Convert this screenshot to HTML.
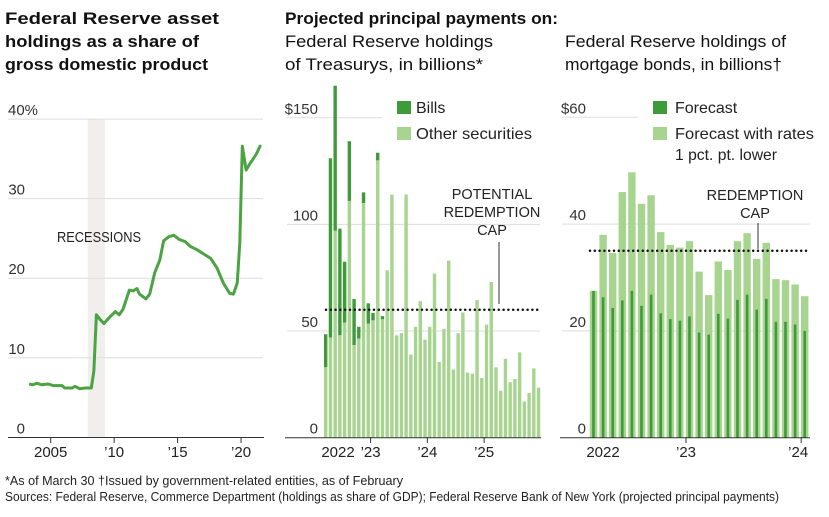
<!DOCTYPE html>
<html><head><meta charset="utf-8"><style>
html,body{margin:0;padding:0;background:#fff}
svg{display:block;font-family:"Liberation Sans",sans-serif}
</style></head><body>
<svg id="c" width="829" height="517" viewBox="0 0 829 517" xmlns="http://www.w3.org/2000/svg">
<g fill="#111">
<text x="5" y="24" font-size="17" font-weight="bold" textLength="214" lengthAdjust="spacingAndGlyphs">Federal Reserve asset</text>
<text x="5" y="47" font-size="17" font-weight="bold" textLength="194" lengthAdjust="spacingAndGlyphs">holdings as a share of</text>
<text x="5" y="70" font-size="17" font-weight="bold" textLength="203" lengthAdjust="spacingAndGlyphs">gross domestic product</text>
<text x="285" y="24" font-size="17" font-weight="bold" textLength="273" lengthAdjust="spacingAndGlyphs">Projected principal payments on:</text>
<text x="285" y="47" font-size="17" textLength="208" lengthAdjust="spacingAndGlyphs">Federal Reserve holdings</text>
<text x="285" y="70" font-size="17" textLength="198" lengthAdjust="spacingAndGlyphs">of Treasurys, in billions*</text>
<text x="565" y="47" font-size="17" textLength="221" lengthAdjust="spacingAndGlyphs">Federal Reserve holdings of</text>
<text x="565" y="70" font-size="17" textLength="217" lengthAdjust="spacingAndGlyphs">mortgage bonds, in billions†</text>
</g>
<g id="left"></g>
<g id="mid"></g>
<g id="right"></g>
<g fill="#222" font-size="13">
<text x="5" y="485" textLength="398" lengthAdjust="spacingAndGlyphs">*As of March 30   †Issued by government-related entities, as of February</text>
<text x="5" y="501" textLength="774" lengthAdjust="spacingAndGlyphs">Sources: Federal Reserve, Commerce Department (holdings as share of GDP); Federal Reserve Bank of New York (projected principal payments)</text>
</g>
</svg>
<script>
const NS="http://www.w3.org/2000/svg";
const DARK="#3f9a3a", LIGHT="#a7d590", LINE="#4ba343", GRID="#dddddd";
function mk(p,tag,attrs,txt){const e=document.createElementNS(NS,tag);for(const k in attrs)e.setAttribute(k,attrs[k]);if(txt!==undefined)e.textContent=txt;p.appendChild(e);return e;}

// ---- Left chart data ----
const gdpYears=[2003.3,2003.6,2003.9,2004.3,2004.8,2005.2,2005.9,2006.1,2006.7,2006.9,2007.3,2007.7,2008.2,2008.4,2008.6,2008.9,2009.2,2009.7,2010.1,2010.4,2010.7,2011.2,2011.5,2011.8,2012.0,2012.5,2012.8,2013.2,2013.6,2013.9,2014.3,2014.7,2015.1,2015.6,2016.0,2016.5,2017.0,2017.6,2018.1,2018.6,2019.1,2019.4,2019.7,2019.9,2020.1,2020.4,2020.7,2021.2,2021.5,2021.6];
const gdpShare=[6.7,6.6,6.8,6.6,6.7,6.5,6.5,6.2,6.2,6.4,6.1,6.2,6.2,8.3,15.4,14.8,14.3,15.2,15.8,15.4,16.1,18.5,18.4,18.7,18.0,17.4,18.0,20.7,22.3,24.7,25.2,25.4,24.9,24.6,24.0,23.6,23.1,22.5,21.3,19.4,18.1,18.0,19.4,24.4,36.6,33.6,34.4,35.6,36.6,36.6];
const gdpTicks=[0,10,20,30,40];
const gdpTickLabels=["0","10","20","30","40%"];
const gdpYearTicks=[2005,2010,2015,2020];
const gdpYearLabels=["2005","’10","’15","’20"];
const recession=[2007.92,2009.28];

// ---- Middle chart data ----
const tMonths=[];for(let i=0;i<46;i++)tMonths.push(i); // Mar 2022 .. Dec 2025
const tTotal=[48.5,131,165,98,82.5,139,65,52,115,63,58.5,133.6,57,78.5,114,48,49,114,39,52,64,46,52,77,35.5,51,83,32,49,58.7,30.5,30,64.5,28,53,73,33,22,37,26,27.5,40,17,21,32.5,23.5];
const tOther=[33,47,97,48,54,111,43.4,46.5,110,53.5,55,130,55.5,78.5,114,48,49,114,39,52,64,46,52,77,35.5,51,83,32,49,58.7,30.5,30,64.5,28,53,73,33,22,37,26,27.5,40,17,21,32.5,23.5];
const tTicks=[0,50,100,150];
const tTickLabels=["0","50","100","$150"];
const tYearTicks=[10,22,34];
const tYearLabels=["’23","’24","’25"];
const tCap=60;

// ---- Right chart data ----
const mMonths=[];for(let i=0;i<23;i++)mMonths.push(i); // Mar 2022 .. Jan 2024
const mForecast=[27.5,26.3,24.3,25.7,27.5,24.7,26.8,23.3,22.2,21.9,22.7,19.7,19.3,23.2,22.3,25.8,26.8,24,26,21.7,21.7,21.2,20];
const mLower=[27.5,38,34.6,46,49.7,43.8,45.4,38.5,36.1,35.6,36.8,31.1,26.7,33,31.4,36.8,38.3,33.5,36.5,29.7,29.5,28.7,26.5];
const mTicks=[0,20,40,60];
const mTickLabels=["0","20","40","$60"];
const mYearTicks=[10,22];
const mYearLabels=["’23","’24"];
const mCap=35;

// ===== Left =====
(function(){
const g=document.getElementById('left');
const x=y=>50.7+(y-2005)*12.69, y=v=>437.3-v*7.955;
const band=mk(g,'rect',{x:x(recession[0]),y:y(40),width:x(recession[1])-x(recession[0]),height:y(0)-y(40),fill:"#f1efee"});


gdpTicks.forEach((t,i)=>{
 if(t>0){const l=mk(g,'line',{x1:8,x2:263,y1:y(t),y2:y(t),stroke:GRID,"stroke-width":1});
 
 }
 const tx=mk(g,'text',t===40?{x:8,y:y(t)-4,"font-size":15,fill:"#333"}:{x:25,y:y(t)-4,"font-size":15,fill:"#333","text-anchor":"end"},gdpTickLabels[i]);
 
 
});
const rl=mk(g,'text',{x:57,y:242,"font-size":14.5,fill:"#222",textLength:84,lengthAdjust:"spacingAndGlyphs"},"RECESSIONS");


const ax=mk(g,'line',{x1:8,x2:264,y1:437.5,y2:437.5,stroke:"#333","stroke-width":1});


gdpYearTicks.forEach((t,i)=>{
 mk(g,'line',{x1:x(t),x2:x(t),y1:437,y2:443,stroke:"#333"});
 const tx=mk(g,'text',{x:x(t),y:457,"font-size":15,fill:"#222","text-anchor":"middle"},gdpYearLabels[i]);
 
 
});
const p=mk(g,'polyline',{points:gdpYears.map((yr,i)=>x(yr)+","+y(gdpShare[i])).join(" "),fill:"none",stroke:LINE,"stroke-width":3,"stroke-linejoin":"round"});


})();

// ===== Middle =====
(function(){
const g=document.getElementById('mid');
const x=m=>325.7+m*4.73, y=v=>437.7-v*2.133;
tTicks.forEach((t,i)=>{
 if(t>0){const l=mk(g,'line',{x1:287,x2:t===150?382:540,y1:y(t),y2:y(t),stroke:GRID});
 
 }
 const tx=mk(g,'text',{x:318,y:y(t)-4,"font-size":15,fill:"#333","text-anchor":"end"},tTickLabels[i]);
 
 
});
tMonths.forEach((m,i)=>{
 const b=mk(g,'rect',{x:x(m)-1.7,y:y(tTotal[i]),width:3.4,height:y(tOther[i])-y(tTotal[i]),fill:DARK});
 
 
 const o=mk(g,'rect',{x:x(m)-1.7,y:y(tOther[i]),width:3.4,height:y(0)-y(tOther[i]),fill:LIGHT});
 
 
});
const ax=mk(g,'line',{x1:285,x2:541,y1:437.7,y2:437.7,stroke:"#333"});


tYearTicks.forEach((t,i)=>{
 const tx0=x(t)-2.4;
 mk(g,'line',{x1:tx0,x2:tx0,y1:437,y2:443,stroke:"#333"});
 const tx=mk(g,'text',{x:tx0,y:457,"font-size":15,fill:"#222","text-anchor":"middle"},tYearLabels[i]);
 
 
});
const y22=mk(g,'text',{x:338,y:457,"font-size":15,fill:"#222","text-anchor":"middle"},"2022");


const cap=mk(g,'line',{x1:326,x2:541,y1:y(tCap),y2:y(tCap),stroke:"#111","stroke-width":2.5,"stroke-dasharray":"0 4.8","stroke-linecap":"round"});


mk(g,'line',{x1:499,x2:499,y1:242,y2:304,stroke:"#333"});
["POTENTIAL","REDEMPTION","CAP"].forEach((s,i)=>{
 const t=mk(g,'text',{x:492,y:199+i*18,"font-size":14.5,fill:"#222","text-anchor":"middle"},s);
 
 
});
const l1=mk(g,'rect',{x:397,y:101,width:14,height:13,fill:DARK});


const t1=mk(g,'text',{x:416,y:113,"font-size":16,fill:"#222"},"Bills");


const l2=mk(g,'rect',{x:397,y:127,width:14,height:13,fill:LIGHT});


const t2=mk(g,'text',{x:416,y:139,"font-size":16,fill:"#222",textLength:116,lengthAdjust:"spacingAndGlyphs"},"Other securities");


})();

// ===== Right =====
(function(){
const g=document.getElementById('right');
const x=m=>593.5+m*9.6, y=v=>437.7-v*5.34;
mTicks.forEach((t,i)=>{
 if(t>0){const l=mk(g,'line',{x1:562,x2:t===60?638:810,y1:y(t),y2:y(t),stroke:GRID});
 
 }
 const tx=mk(g,'text',{x:586,y:y(t)-4,"font-size":15,fill:"#333","text-anchor":"end"},mTickLabels[i]);
 
 
});
mMonths.forEach((m,i)=>{
 const o=mk(g,'rect',{x:x(m)-3.7,y:y(mLower[i]),width:7.4,height:y(0)-y(mLower[i]),fill:LIGHT});
 
 
 const b=mk(g,'rect',{x:x(m)-1.3,y:y(mForecast[i]),width:2.6,height:y(0)-y(mForecast[i]),fill:DARK});
 
 
});
const ax=mk(g,'line',{x1:560,x2:810,y1:437.7,y2:437.7,stroke:"#333"});


mYearTicks.forEach((t,i)=>{
 const tx0=x(t)-3.5;
 mk(g,'line',{x1:tx0,x2:tx0,y1:437,y2:443,stroke:"#333"});
 const tx=mk(g,'text',{x:tx0+(i===1?-3:0),y:457,"font-size":15,fill:"#222","text-anchor":"middle"},mYearLabels[i]);
 
 
});
const y22=mk(g,'text',{x:603,y:457,"font-size":15,fill:"#222","text-anchor":"middle"},"2022");


const cap=mk(g,'line',{x1:590,x2:808,y1:y(mCap),y2:y(mCap),stroke:"#111","stroke-width":2.5,"stroke-dasharray":"0 4.8","stroke-linecap":"round"});


mk(g,'line',{x1:758,x2:758,y1:223,y2:249,stroke:"#333"});
["REDEMPTION","CAP"].forEach((s,i)=>{
 const t=mk(g,'text',{x:755,y:200+i*18,"font-size":14.5,fill:"#222","text-anchor":"middle"},s);
 
 
});
const l1=mk(g,'rect',{x:653,y:101,width:14,height:13,fill:DARK});


const t1=mk(g,'text',{x:675,y:113,"font-size":16,fill:"#222"},"Forecast");


const l2=mk(g,'rect',{x:653,y:127,width:14,height:13,fill:LIGHT});


const t2=mk(g,'text',{x:675,y:139,"font-size":16,fill:"#222",textLength:139,lengthAdjust:"spacingAndGlyphs"},"Forecast with rates");


const t3=mk(g,'text',{x:675,y:160,"font-size":16,fill:"#222",textLength:102,lengthAdjust:"spacingAndGlyphs"},"1 pct. pt. lower");


})();
</script>
</body></html>
